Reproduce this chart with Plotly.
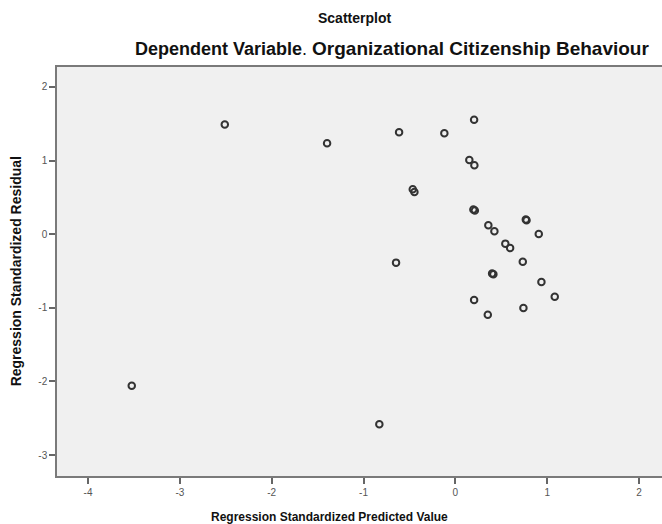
import plotly.graph_objects as go

# Regression standardized predicted value (x) and residual (y)
pred = [-3.524, -2.511, -1.397, -0.613, -0.120, 0.204, 0.152, 0.207,
        -0.464, -0.446, 0.196, 0.212, 0.359, 0.425, 0.767, 0.775, 0.908,
        0.544, 0.596, 0.734, -0.646, 0.400, 0.414, 0.937, 1.082,
        0.204, 0.741, 0.353, -0.828]
resid = [-2.058, 1.488, 1.235, 1.384, 1.371, 1.552, 1.008, 0.936,
         0.610, 0.573, 0.335, 0.322, 0.121, 0.039, 0.198, 0.188, 0.003,
         -0.129, -0.188, -0.374, -0.387, -0.536, -0.546, -0.649, -0.849,
         -0.894, -1.003, -1.094, -2.583]

x_ticks = [-4, -3, -2, -1, 0, 1, 2]
y_ticks = [-3, -2, -1, 0, 1, 2]

title_text = "Scatterplot"
subtitle_dep = "Dependent Variable"
subtitle_var = "Organizational Citizenship Behaviour"
x_title = "Regression Standardized Predicted Value"
y_title = "Regression Standardized Residual"

FONT = "Liberation Sans, Arial, sans-serif"

fig = go.Figure()
fig.add_trace(go.Scatter(
    x=pred, y=resid, mode="markers",
    marker=dict(symbol="circle-open", size=6.5, color="#333333",
                line=dict(width=2, color="#333333")),
    hoverinfo="x+y", showlegend=False,
))

axis_common = dict(
    showgrid=False, zeroline=False, showline=True,
    linecolor="#7a7a7a", linewidth=1.5,
    ticks="outside", ticklen=6, tickwidth=1.5, tickcolor="#666666",
    tickfont=dict(family=FONT, size=10, color="#555555"),
)

fig.update_layout(
    width=662, height=524,
    margin=dict(l=57, r=0, t=67, b=48),
    paper_bgcolor="white", plot_bgcolor="#f0f0f0",
    font=dict(family=FONT),
    xaxis=dict(range=[-4.338, 2.25], tickvals=x_ticks, mirror=True,
               ticktext=[str(v) for v in x_ticks], **axis_common),
    yaxis=dict(range=[-3.285, 2.27], tickvals=y_ticks, mirror=False,
               ticktext=[str(v) for v in y_ticks], **axis_common),
    annotations=[
        dict(text="<b>" + title_text + "</b>", xref="paper", yref="paper",
             x=0.491, y=1.12, xanchor="center", yanchor="middle",
             showarrow=False, font=dict(family=FONT, size=14, color="#111111")),
        dict(text="<b>" + subtitle_dep + "</b>. <b><span style='font-size:19px'>"
             + subtitle_var + "</span></b>",
             xref="paper", yref="paper", x=0.554, y=1.046,
             xanchor="center", yanchor="middle", showarrow=False,
             font=dict(family=FONT, size=18, color="#111111")),
        dict(text="<b>" + x_title + "</b>", xref="paper", yref="paper",
             x=0.45, y=-0.100, xanchor="center", yanchor="middle",
             showarrow=False, font=dict(family=FONT, size=12, color="#111111")),
        dict(text="<b>" + y_title + "</b>", xref="paper", yref="paper",
             x=-0.068, y=0.5, xanchor="center", yanchor="middle", textangle=-90,
             showarrow=False, font=dict(family=FONT, size=14, color="#111111")),
    ],
)

fig.write_html("out.html", config={"displayModeBar": False},
               post_script="document.body.style.margin='0';document.body.style.overflow='hidden';")
